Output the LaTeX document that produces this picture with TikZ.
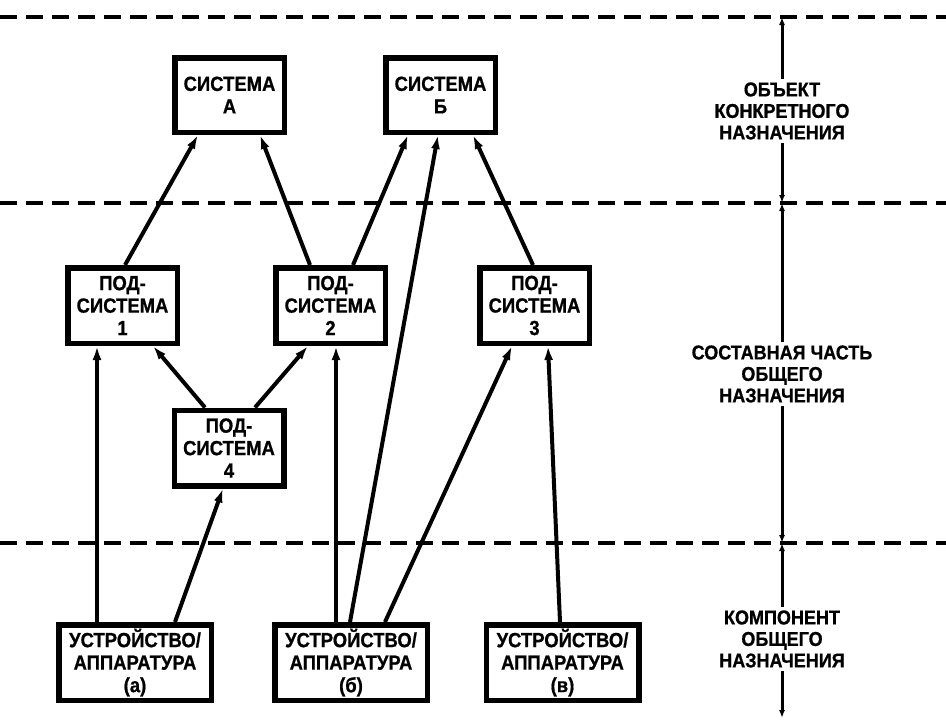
\documentclass[tikz,border=0pt]{standalone}
\usepackage{fontspec}
\setmainfont{Liberation Sans}
\newfontfamily\dfont{Liberation Sans}[FakeStretch=0.9, FakeBold=0.8]
\usetikzlibrary{arrows.meta}
\begin{document}
\begin{tikzpicture}[x=1pt,y=-1pt,
  box/.style={draw, line width=5.5pt, align=center, inner sep=0pt,
    font=\dfont\bfseries\fontsize{20.5}{22.5}\selectfont},
  sysbox/.style={box, minimum width=109.5pt, minimum height=74.5pt},
  subbox/.style={box, minimum width=109.5pt, minimum height=75.5pt},
  devbox/.style={box, minimum width=152.5pt, minimum height=75.5pt},
  conn/.style={line width=4pt, -{Latex[length=14pt,width=9pt]}},
  levelline/.style={line width=4pt, dash pattern=on 17pt off 9pt},
  dimline/.style={line width=3pt, {Latex[length=8pt,width=6pt]}-{Latex[length=8pt,width=6pt]}},
  lab/.style={fill=white, align=center, inner sep=3pt,
    font=\dfont\bfseries\fontsize{20}{21.5}\selectfont}]
\useasboundingbox (0,0) rectangle (946,726);

% level lines
\draw[levelline] (0,17) -- (946,17);
\draw[levelline] (0,203) -- (946,203);
\draw[levelline] (0,543) -- (946,543);

% dimension line
\coordinate (d0) at (782,17);
\coordinate (d1) at (782,203);
\coordinate (d2) at (782,543);
\coordinate (d3) at (782,718);
\draw[dimline] (d0) -- (d1);
\draw[dimline] (d1) -- (d2);
\draw[dimline] (d2) -- (d3);
\node[lab] (l1) at (782,111) {ОБЪЕКТ\\КОНКРЕТНОГО\\НАЗНАЧЕНИЯ};
\node[lab] (l2) at (782,374) {СОСТАВНАЯ ЧАСТЬ\\ОБЩЕГО\\НАЗНАЧЕНИЯ};
\node[lab] (l3) at (782,639) {КОМПОНЕНТ\\ОБЩЕГО\\НАЗНАЧЕНИЯ};

% boxes
\node[sysbox] (A) at (229.5,95) {СИСТЕМА\\А};
\node[sysbox] (B) at (440.5,95) {СИСТЕМА\\Б};
\node[subbox] (P1) at (122.5,305.5) {ПОД-\\СИСТЕМА\\1};
\node[subbox] (P2) at (330.5,305.5) {ПОД-\\СИСТЕМА\\2};
\node[subbox] (P3) at (534.5,305.5) {ПОД-\\СИСТЕМА\\3};
\node[subbox] (P4) at (229,448) {ПОД-\\СИСТЕМА\\4};
\node[devbox] (Ua) at (135,662.5) {УСТРОЙСТВО/\\АППАРАТУРА\\(а)};
\node[devbox] (Ub) at (351,662.5) {УСТРОЙСТВО/\\АППАРАТУРА\\(б)};
\node[devbox] (Uv) at (562.5,662.5) {УСТРОЙСТВО/\\АППАРАТУРА\\(в)};

% connectors
\draw[conn] ([xshift=2.5pt]P1.north) -- ([xshift=-31.5pt]A.south);
\draw[conn] ([xshift=-20.5pt]P2.north) -- ([xshift=30.5pt]A.south);
\draw[conn] ([xshift=22.5pt]P2.north) -- ([xshift=-32.5pt]B.south);
\draw[conn] ([xshift=-1pt]Ub.north) -- ([xshift=-2.5pt]B.south);
\draw[conn] ([xshift=-1.5pt]P3.north) -- ([xshift=32.5pt]B.south);
\draw[conn] ([xshift=-24pt]P4.north) -- ([xshift=30.5pt]P1.south);
\draw[conn] ([xshift=26pt]P4.north) -- ([xshift=-22.5pt]P2.south);
\draw[conn] ([xshift=-38pt]Ua.north) -- ([xshift=-25.5pt]P1.south);
\draw[conn] ([xshift=40pt]Ua.north) -- ([xshift=-6pt]P4.south);
\draw[conn] ([xshift=-15pt]Ub.north) -- ([xshift=5.5pt]P2.south);
\draw[conn] ([xshift=34pt]Ub.north) -- ([xshift=-22.5pt]P3.south);
\draw[conn] ([xshift=-2.5pt]Uv.north) -- ([xshift=13.5pt]P3.south);
\end{tikzpicture}
\end{document}
